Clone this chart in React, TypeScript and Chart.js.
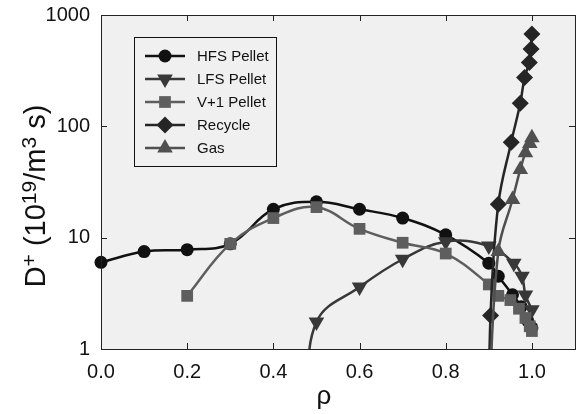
import React, { useEffect, useRef } from "react";
import { Chart, registerables } from "chart.js";

Chart.register(...registerables);

// ---- data ----
const hfsRho = [0.0, 0.1, 0.2, 0.3, 0.4, 0.5, 0.6, 0.7, 0.8, 0.9, 0.922, 0.955, 0.975, 0.99, 1.0];
const hfsVal = [6.0, 7.5, 7.8, 8.8, 18, 21, 18, 15, 10.6, 5.9, 4.5, 3.07, 2.4, 1.8, 1.55];

const lfsRho = [0.48, 0.5, 0.6, 0.7, 0.8, 0.9, 0.958, 0.977, 0.985, 1.0];
const lfsVal = [0.3, 1.75, 3.6, 6.4, 9.2, 8.4, 5.9, 4.5, 3.06, 2.25];

const v1Rho = [0.2, 0.3, 0.4, 0.5, 0.6, 0.7, 0.8, 0.9, 0.922, 0.95, 0.97, 0.985, 0.995, 1.0];
const v1Val = [3.0, 8.8, 15, 18.8, 12, 9.0, 7.2, 3.8, 3.0, 2.75, 2.3, 1.9, 1.6, 1.45];

const recRho = [0.9, 0.904, 0.922, 0.952, 0.973, 0.983, 0.994, 0.998, 1.0];
const recVal = [0.2, 2.0, 20, 72, 161, 275, 375, 494, 674];

const gasRho = [0.9, 0.922, 0.955, 0.973, 0.985, 0.995, 1.0];
const gasVal = [0.3, 7.5, 22, 41, 58, 70, 79];

const seriesNames = ["HFS Pellet", "LFS Pellet", "V+1 Pellet", "Recycle", "Gas"];
const xTicks = [0, 0.2, 0.4, 0.6, 0.8, 1.0];
const yTicks = [1, 10, 100, 1000];
const xTitle = "ρ";

const FONT = "Arial, 'Liberation Sans', Helvetica, sans-serif";

const styles = [
  { color: "#111111", shape: "circle", radius: 6.5, rotation: 0 },
  { color: "#383838", shape: "triangle", radius: 9, rotation: 180 },
  { color: "#5e5e5e", shape: "rect", radius: 8.3, rotation: 0 },
  { color: "#252525", shape: "rectRot", radius: 8.5, rotation: 0 },
  { color: "#505050", shape: "triangle", radius: 9, rotation: 0 },
];

const toPts = (r: number[], v: number[]) => r.map((x, i) => ({ x, y: v[i] }));

function drawMarker(ctx: CanvasRenderingContext2D, shape: string, x: number, y: number, r: number, rot: number, color: string) {
  ctx.save();
  ctx.fillStyle = color;
  ctx.beginPath();
  if (shape === "circle") {
    ctx.arc(x, y, r, 0, Math.PI * 2);
  } else if (shape === "rect") {
    const s = Math.SQRT1_2 * r;
    ctx.rect(x - s, y - s, 2 * s, 2 * s);
  } else if (shape === "rectRot") {
    ctx.moveTo(x, y - r);
    ctx.lineTo(x + r, y);
    ctx.lineTo(x, y + r);
    ctx.lineTo(x - r, y);
    ctx.closePath();
  } else if (shape === "triangle") {
    let a = (rot * Math.PI) / 180;
    ctx.moveTo(x + Math.sin(a) * r, y - Math.cos(a) * r);
    a += (2 * Math.PI) / 3;
    ctx.lineTo(x + Math.sin(a) * r, y - Math.cos(a) * r);
    a += (2 * Math.PI) / 3;
    ctx.lineTo(x + Math.sin(a) * r, y - Math.cos(a) * r);
    ctx.closePath();
  }
  ctx.fill();
  ctx.restore();
}

const framePlugin = {
  id: "frame",
  beforeDraw(chart: any) {
    const { ctx, chartArea: a } = chart;
    ctx.save();
    ctx.fillStyle = "#ffffff";
    ctx.fillRect(0, 0, chart.width, chart.height);
    ctx.fillStyle = "#f0f0f0";
    ctx.fillRect(a.left, a.top, a.right - a.left, a.bottom - a.top);
    ctx.restore();
  },
  afterDraw(chart: any) {
    const { ctx, chartArea: a, scales } = chart;
    ctx.save();
    // frame
    ctx.strokeStyle = "#222222";
    ctx.lineWidth = 1;
    ctx.strokeRect(Math.round(a.left) + 0.5, Math.round(a.top) + 0.5, Math.round(a.right - a.left), Math.round(a.bottom - a.top));
    // inward ticks
    const tl = 6;
    ctx.beginPath();
    xTicks.forEach((v) => {
      const px = Math.round(scales.x.getPixelForValue(v)) + 0.5;
      ctx.moveTo(px, a.bottom);
      ctx.lineTo(px, a.bottom - tl);
      ctx.moveTo(px, a.top);
      ctx.lineTo(px, a.top + tl);
    });
    yTicks.forEach((v) => {
      const py = Math.round(scales.y.getPixelForValue(v)) + 0.5;
      ctx.moveTo(a.left, py);
      ctx.lineTo(a.left + tl, py);
      ctx.moveTo(a.right, py);
      ctx.lineTo(a.right - tl, py);
    });
    ctx.stroke();

    // x title
    ctx.fillStyle = "#111111";
    ctx.font = `26px ${FONT}`;
    ctx.textAlign = "center";
    ctx.textBaseline = "alphabetic";
    ctx.fillText(xTitle, 324, 404);

    // y title with superscripts
    const parts = [
      { t: "D", sup: false },
      { t: "+", sup: true },
      { t: " (10", sup: false },
      { t: "19", sup: true },
      { t: "/m", sup: false },
      { t: "3", sup: true },
      { t: " s)", sup: false },
    ];
    const mainF = `29px ${FONT}`;
    const supF = `21px ${FONT}`;
    let total = 0;
    parts.forEach((p) => {
      ctx.font = p.sup ? supF : mainF;
      total += ctx.measureText(p.t).width;
    });
    ctx.save();
    ctx.translate(45, 196);
    ctx.rotate(-Math.PI / 2);
    ctx.textAlign = "left";
    let cx = -total / 2;
    parts.forEach((p) => {
      ctx.font = p.sup ? supF : mainF;
      ctx.fillText(p.t, cx, p.sup ? -9 : 0);
      cx += ctx.measureText(p.t).width;
    });
    ctx.restore();

    // legend
    const bx = 134.5, by = 37.5, bw = 142, bh = 129;
    ctx.strokeStyle = "#111111";
    ctx.lineWidth = 1;
    ctx.strokeRect(bx, by, bw, bh);
    const rowY = [56, 79, 102, 125, 148];
    ctx.font = `15px ${FONT}`;
    ctx.textAlign = "left";
    ctx.textBaseline = "middle";
    seriesNames.forEach((name, i) => {
      const st = styles[i];
      ctx.strokeStyle = st.color;
      ctx.lineWidth = 2.5;
      ctx.beginPath();
      ctx.moveTo(145, rowY[i]);
      ctx.lineTo(185, rowY[i]);
      ctx.stroke();
      drawMarker(ctx, st.shape, 165, rowY[i], st.radius, st.rotation, st.color);
      ctx.fillStyle = "#111111";
      ctx.fillText(name, 197, rowY[i] + 1);
    });
    ctx.restore();
  },
};

export default function App() {
  const ref = useRef<HTMLCanvasElement | null>(null);
  useEffect(() => {
    if (!ref.current) return;
    const all = [
      toPts(hfsRho, hfsVal),
      toPts(lfsRho, lfsVal),
      toPts(v1Rho, v1Val),
      toPts(recRho, recVal),
      toPts(gasRho, gasVal),
    ];
    const datasets = all.map((data, i) => ({
      label: seriesNames[i],
      data,
      borderColor: styles[i].color,
      backgroundColor: styles[i].color,
      pointBackgroundColor: styles[i].color,
      pointBorderColor: styles[i].color,
      pointBorderWidth: 0,
      pointStyle: styles[i].shape,
      pointRotation: styles[i].rotation,
      pointRadius: styles[i].radius,
      borderWidth: 2.5,
      tension: 0.4,
      order: 5 - i,
      clip: { left: 12, right: 12, top: 12, bottom: 0 },
    }));
    const chart = new Chart(ref.current, {
      type: "line",
      data: { datasets: datasets as any },
      options: {
        animation: false,
        responsive: false,
        layout: { padding: { left: 0, top: 15, right: 7, bottom: 0 } },
        plugins: { legend: { display: false }, tooltip: { enabled: false } },
        scales: {
          x: {
            type: "linear",
            min: 0,
            max: 1.1,
            afterBuildTicks: (s: any) => {
              s.ticks = xTicks.map((v) => ({ value: v }));
            },
            afterFit: (s: any) => {
              s.height = 65;
              s.paddingLeft = 0;
              s.paddingRight = 0;
            },
            ticks: {
              callback: (v: any) => Number(v).toFixed(1),
              font: { size: 20, family: FONT },
              color: "#111111",
              padding: 11,
              maxRotation: 0,
              autoSkip: false,
            },
            grid: { display: false, drawTicks: false },
            border: { display: false },
          },
          y: {
            type: "logarithmic",
            min: 1,
            max: 1000,
            afterBuildTicks: (s: any) => {
              s.ticks = yTicks.map((v) => ({ value: v }));
            },
            afterFit: (s: any) => {
              s.width = 101;
              s.paddingTop = 0;
              s.paddingBottom = 0;
            },
            ticks: {
              callback: (v: any) => String(v),
              font: { size: 20, family: FONT },
              color: "#111111",
              padding: 11,
              autoSkip: false,
            },
            grid: { display: false, drawTicks: false },
            border: { display: false },
          },
        },
      },
      plugins: [framePlugin],
    });
    return () => chart.destroy();
  }, []);
  return (
    <div style={{ position: "absolute", left: 0, top: 0, width: 584, height: 414 }}>
      <canvas ref={ref} width={584} height={414} />
    </div>
  );
}
